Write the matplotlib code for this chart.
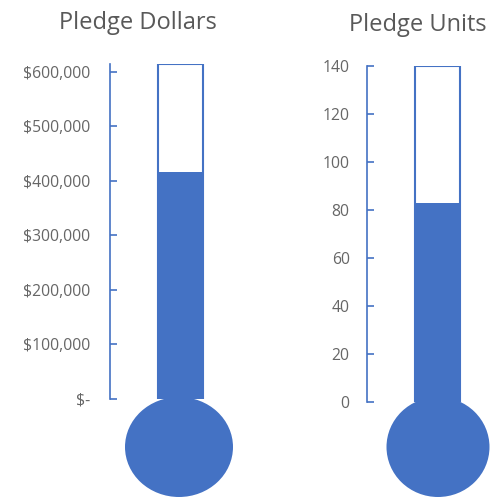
import matplotlib
matplotlib.use("Agg")
import matplotlib.pyplot as plt
from matplotlib.patches import Ellipse
from matplotlib.ticker import FuncFormatter

# ---- data ----
titles = ["Pledge Dollars", "Pledge Units"]
dollar_goal = 615000
dollar_pledged = 417000
dollar_ticks = [0, 100000, 200000, 300000, 400000, 500000, 600000]
unit_goal = 140
unit_pledged = 83
unit_ticks = [0, 20, 40, 60, 80, 100, 120, 140]

BLUE = "#4472C4"
GRAY = "#595959"
W, H = 494, 497

plt.rcParams['font.family'] = ['Open Sans', 'DejaVu Sans']

fig = plt.figure(figsize=(W / 100, H / 100), dpi=100)


def px_axes(left, top, width, bottom):
    return fig.add_axes([left / W, 1 - bottom / H, width / W, (bottom - top) / H])


def thermo(ax, goal, pledged, ticks, fmt, pad):
    ax.set_ylim(0, goal)
    ax.set_xlim(0, 1)
    bw = 45 / 140
    ax.bar(0.5, goal, width=bw, color="white", edgecolor=BLUE, linewidth=1.5, zorder=1)
    ax.bar(0.5, pledged, width=bw, color=BLUE, linewidth=0, zorder=2)
    for s in ["top", "right", "bottom"]:
        ax.spines[s].set_visible(False)
    ax.spines["left"].set_color(BLUE)
    ax.spines["left"].set_linewidth(1.2)
    ax.set_yticks(ticks)
    ax.yaxis.set_major_formatter(FuncFormatter(fmt))
    ax.tick_params(axis="y", direction="in", length=5, width=1.2, color=BLUE,
                   labelcolor="#666666", labelsize=11.3, pad=pad)
    ax.set_xticks([])
    ax.patch.set_visible(False)


def dollar_fmt(v, pos):
    return "$-" if v == 0 else "${:,.0f}".format(v)


def unit_fmt(v, pos):
    return "{:.0f}".format(v)


ax1 = px_axes(110, 63.8, 140, 399)
thermo(ax1, dollar_goal, dollar_pledged, dollar_ticks, dollar_fmt, 14.5)
ax2 = px_axes(367, 66, 140, 402)
thermo(ax2, unit_goal, unit_pledged, unit_ticks, unit_fmt, 12.5)

fig.add_artist(Ellipse((179 / W, 1 - 447 / H), 108 / W, 100 / H,
                       transform=fig.transFigure, color=BLUE, lw=0, zorder=5))
fig.add_artist(Ellipse((438 / W, 1 - 447 / H), 103 / W, 100 / H,
                       transform=fig.transFigure, color=BLUE, lw=0, zorder=5))

fig.text(138 / W, 1 - 23 / H, titles[0], ha="center", va="center",
         fontsize=17, color=GRAY)
fig.text(418 / W, 1 - 25 / H, titles[1], ha="center", va="center",
         fontsize=17, color=GRAY)

fig.savefig("out.png", dpi=100, facecolor="white")
